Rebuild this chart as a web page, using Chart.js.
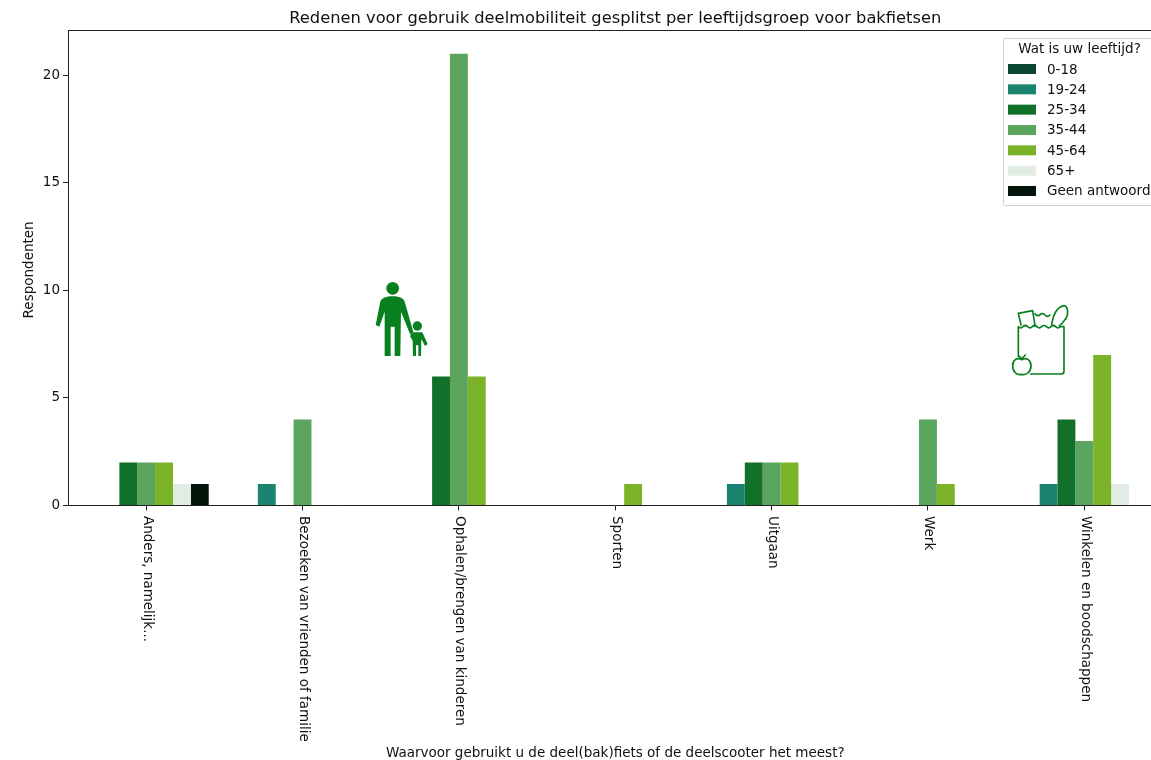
<!DOCTYPE html>
<html>
<head>
<meta charset="utf-8">
<title>Redenen voor gebruik deelmobiliteit</title>
<script src="https://cdn.jsdelivr.net/npm/chart.js@4"></script>
<style>
    html, body { margin: 0; padding: 0; width: 1151px; height: 760px; overflow: hidden; background: #fff; }
    #wrap { position: relative; width: 1151px; height: 760px; overflow: hidden; }
    #grafiek { position: absolute; left: 0; top: 0; }
    #iconen { position: absolute; left: 0; top: 0; }
</style>
</head>
<body>
<div id="wrap">
    <canvas id="grafiek" width="1180" height="760"></canvas>
    <svg id="iconen" width="1151" height="760" viewBox="0 0 1151 760">
        <!-- ouder met kind -->
        <g transform="translate(360 270) scale(0.3333)" fill="#08801f">
            <circle cx="98" cy="55" r="19"/>
            <path d="M98 79 C116 79 130 84 134 95 L160 186 L151 194 L123 125 L121 258 L104 258 L104 170 L92 170 L92 258 L74 258 L74 125 L58 170 L47 165 L61 95 C64 84 80 79 98 79 Z"/>
            <circle cx="172" cy="168" r="14"/>
            <path d="M158 187 L187 187 L203 222 L195 228 L184 207 L183 258 L175 258 L175 226 L168 226 L168 258 L159 258 L158 212 L150 198 Z"/>
        </g>
        <!-- boodschappentas -->
        <g transform="translate(1000 295) scale(0.3333)" fill="none" stroke="#08801f" stroke-width="5" stroke-linejoin="round" stroke-linecap="round">
            <path d="M55 185 L55 95 Q62 102 69 95 Q76 88 83 95 Q90 102 97 95 Q104 88 111 95 Q118 102 125 95 Q132 88 139 95 Q146 102 153 95 Q160 88 167 95 Q174 102 181 95 L192 95 L192 229 Q192 237 184 237 L92 237"/>
            <path d="M63 90 L55 55 L98 47 L105 92"/>
            <path d="M105 56 Q112 66 120 59 Q128 52 135 60 Q142 68 150 60"/>
            <path d="M155 88 C160 58 172 36 192 32 C206 34 206 62 195 74 C190 82 184 88 178 92"/>
            <path d="M65 194 C50 186 38 196 38 212 C38 230 50 242 65 238 C80 242 93 230 93 212 C93 196 80 186 65 194 Z"/>
            <path d="M65 192 L76 180 M65 190 L56 183"/>
        </g>
    </svg>
</div>

<script>
const categorieen = ['Anders, namelijk...', 'Bezoeken van vrienden of familie', 'Ophalen/brengen van kinderen', 'Sporten', 'Uitgaan', 'Werk', 'Winkelen en boodschappen'];
const leeftijden = ['0-18', '19-24', '25-34', '35-44', '45-64', '65+', 'Geen antwoord'];
const kleuren = ['#0b4730', '#1a8471', '#117029', '#5ca55f', '#7ab228', '#e1ece4', '#03150a'];
const yTicks = [0, 5, 10, 15, 20];

const waarden0_18 = [0, 0, 0, 0, 0, 0, 0];
const waarden19_24 = [0, 1, 0, 0, 1, 0, 1];
const waarden25_34 = [2, 0, 6, 0, 2, 0, 4];
const waarden35_44 = [2, 4, 21, 0, 2, 4, 3];
const waarden45_64 = [2, 0, 6, 1, 2, 1, 7];
const waarden65 = [1, 0, 0, 0, 0, 0, 1];
const waardenGeen = [1, 0, 0, 0, 0, 0, 0];
const reeksen = [waarden0_18, waarden19_24, waarden25_34, waarden35_44, waarden45_64, waarden65, waardenGeen];

const lettertype = '"DejaVu Sans"';
const tekstKleur = '#111';
const tekstGrootte = 13.5;

Chart.defaults.font.family = lettertype;
Chart.defaults.color = tekstKleur;

// bovenrand van de grafiek, labels die naar beneden lezen en de legenda
const extras = {
    id: 'extras',
    afterDatasetsDraw(chart) {
        const ctx = chart.ctx;
        const area = chart.chartArea;
        const x = chart.scales.x;

        ctx.save();
        ctx.strokeStyle = '#222';
        ctx.lineWidth = 1;
        ctx.beginPath();
        ctx.moveTo(area.left, area.top + 0.5);
        ctx.lineTo(area.right, area.top + 0.5);
        ctx.lineTo(area.right, area.bottom);
        ctx.stroke();

        // x labels
        ctx.fillStyle = tekstKleur;
        ctx.font = tekstGrootte + 'px ' + lettertype;
        ctx.textAlign = 'left';
        ctx.textBaseline = 'middle';
        chart.data.labels.forEach((label, i) => {
            ctx.save();
            ctx.translate(x.getPixelForTick(i) + 1, 516);
            ctx.rotate(Math.PI / 2);
            ctx.fillText(label, 0, 0);
            ctx.restore();
        });

        // legenda
        ctx.fillStyle = 'rgba(255,255,255,0.85)';
        ctx.strokeStyle = '#cfcfcf';
        ctx.beginPath();
        ctx.roundRect(1003.5, 38.5, 165, 167, 2);
        ctx.fill();
        ctx.stroke();

        ctx.fillStyle = tekstKleur;
        ctx.textAlign = 'center';
        ctx.fillText('Wat is uw leeftijd?', 1079.5, 49);
        ctx.textAlign = 'left';
        chart.data.datasets.forEach((ds, i) => {
            const y = 69 + i * 20.33;
            ctx.fillStyle = ds.backgroundColor;
            ctx.fillRect(1008, y - 5, 28, 10);
            ctx.fillStyle = tekstKleur;
            ctx.fillText(ds.label, 1047, y + 1);
        });
        ctx.restore();
    }
};

function iniciarGrafiek() {
    const ctx = document.getElementById('grafiek').getContext('2d');
    new Chart(ctx, {
        type: 'bar',
        data: {
            labels: categorieen,
            datasets: leeftijden.map((naam, i) => ({
                label: naam,
                data: reeksen[i],
                backgroundColor: kleuren[i],
                borderWidth: 0,
                categoryPercentage: 0.8,
                barPercentage: 1
            }))
        },
        plugins: [extras],
        options: {
            responsive: false,
            animation: false,
            layout: { padding: { right: 17.5 } },
            plugins: {
                legend: { display: false },
                tooltip: { enabled: false },
                title: {
                    display: true,
                    fullSize: false,
                    text: 'Redenen voor gebruik deelmobiliteit gesplitst per leeftijdsgroep voor bakfietsen',
                    font: { size: 16.3, weight: 'normal' },
                    color: tekstKleur,
                    padding: { top: 8.5, bottom: 1.94 }
                }
            },
            scales: {
                x: {
                    afterFit(scale) { scale.height = 254.5; },
                    grid: { display: true, drawOnChartArea: false, offset: false, tickLength: 5, tickColor: '#222' },
                    border: { color: '#222' },
                    ticks: { display: false },
                    title: {
                        display: true,
                        text: 'Waarvoor gebruikt u de deel(bak)fiets of de deelscooter het meest?',
                        font: { size: tekstGrootte },
                        color: tekstKleur,
                        padding: { top: 0, bottom: -2 }
                    }
                },
                y: {
                    min: 0,
                    max: 22.1,
                    afterFit(scale) { scale.width = 68; },
                    afterBuildTicks(scale) { scale.ticks = yTicks.map(v => ({ value: v })); },
                    grid: { display: true, drawOnChartArea: false, tickLength: 5, tickColor: '#222' },
                    border: { color: '#222' },
                    ticks: { font: { size: tekstGrootte }, color: tekstKleur, padding: 3 },
                    title: {
                        display: true,
                        // spatie erachter schuift de tekst iets omlaag, zoals in het origineel
                        text: 'Respondenten ',
                        font: { size: tekstGrootte },
                        color: tekstKleur,
                        padding: { top: 21.5, bottom: 0 }
                    }
                }
            }
        }
    });
}

document.addEventListener('DOMContentLoaded', function() {
    iniciarGrafiek();
});
</script>
</body>
</html>
